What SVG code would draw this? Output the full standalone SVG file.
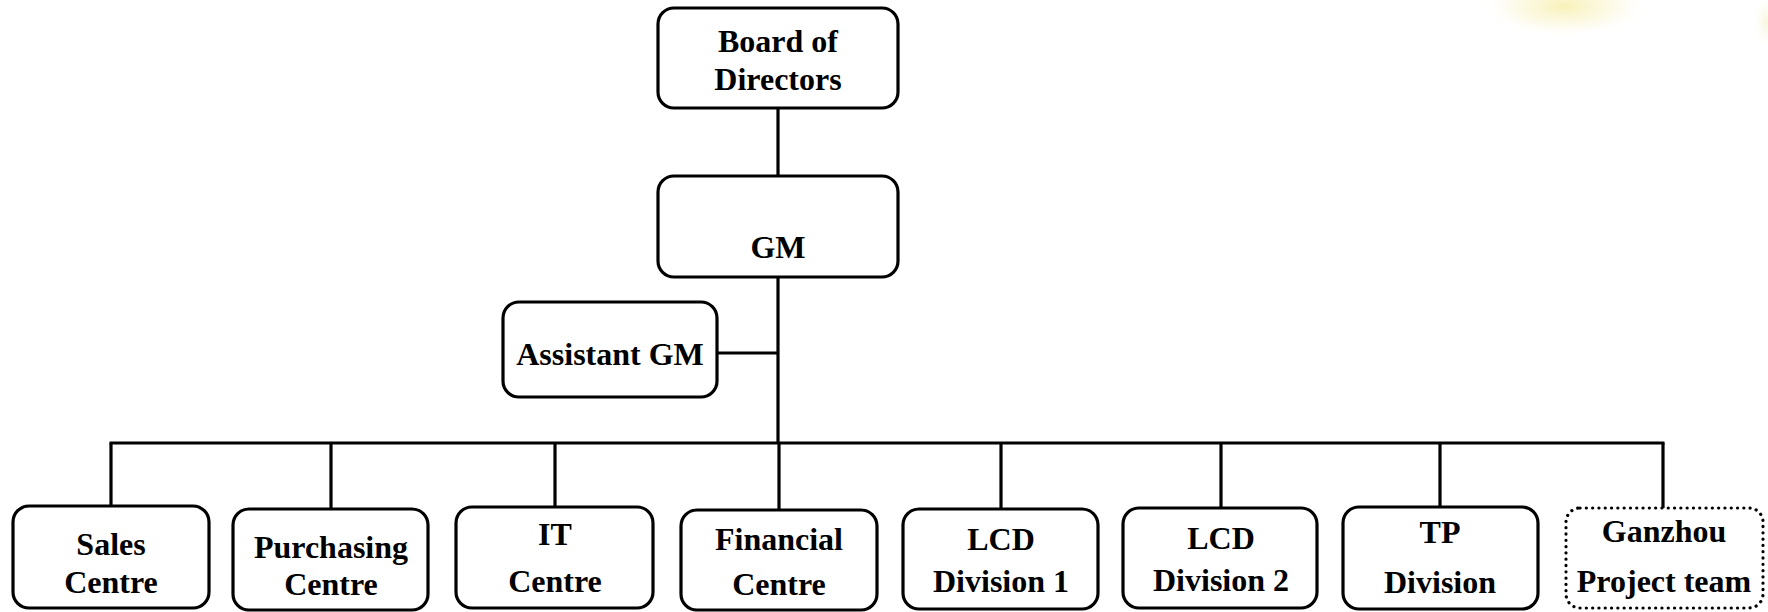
<svg xmlns="http://www.w3.org/2000/svg" width="1768" height="612" viewBox="0 0 1768 612">
<defs>
<radialGradient id="glow" cx="0.5" cy="0.5" r="0.5">
<stop offset="0" stop-color="#f6eb9a" stop-opacity="0.7"/>
<stop offset="0.6" stop-color="#f8f0b8" stop-opacity="0.3"/>
<stop offset="1" stop-color="#ffffff" stop-opacity="0"/>
</radialGradient>
<radialGradient id="glow2" cx="0.5" cy="0.5" r="0.5">
<stop offset="0" stop-color="#f4f0c8" stop-opacity="0.6"/>
<stop offset="1" stop-color="#ffffff" stop-opacity="0"/>
</radialGradient>
</defs>
<style>
.box{fill:#ffffff;stroke:#000;stroke-width:3.2}
.dot{fill:#ffffff;stroke:#000;stroke-width:3.2;stroke-dasharray:0.1 6.2;stroke-linecap:round}
.ln{stroke:#000;stroke-width:3.2;fill:none}
text{font-family:"Liberation Serif","Times New Roman",serif;font-weight:bold;font-size:32px;fill:#000;text-anchor:middle}
</style>
<rect x="0" y="0" width="1768" height="612" fill="#ffffff"/>
<ellipse cx="1565" cy="6" rx="85" ry="32" fill="url(#glow)"/>
<ellipse cx="1766" cy="22" rx="14" ry="30" fill="url(#glow2)"/>
<g id="connectors">
<line class="ln" x1="778" y1="108" x2="778" y2="176"/>
<line class="ln" x1="778" y1="277" x2="778" y2="443"/>
<line class="ln" x1="717" y1="353" x2="778" y2="353"/>
<line class="ln" x1="109.5" y1="443" x2="1664.5" y2="443"/>
<line class="ln" x1="111" y1="443" x2="111" y2="506"/>
<line class="ln" x1="331" y1="443" x2="331" y2="509"/>
<line class="ln" x1="555" y1="443" x2="555" y2="507"/>
<line class="ln" x1="779" y1="443" x2="779" y2="510"/>
<line class="ln" x1="1001" y1="443" x2="1001" y2="509"/>
<line class="ln" x1="1221" y1="443" x2="1221" y2="508"/>
<line class="ln" x1="1440" y1="443" x2="1440" y2="507"/>
<line class="ln" x1="1663" y1="443" x2="1663" y2="508"/>
</g>
<g id="board">
<rect class="box" x="658" y="8" width="240" height="100" rx="16"/>
<text x="778" y="52">Board of</text>
<text x="778" y="90">Directors</text>
</g>
<g id="gm">
<rect class="box" x="658" y="176" width="240" height="101" rx="16"/>
<text x="778" y="258">GM</text>
</g>
<g id="assistant-gm">
<rect class="box" x="503" y="302" width="214" height="95" rx="16"/>
<text x="610" y="365">Assistant GM</text>
</g>
<g id="sales">
<rect class="box" x="13" y="506" width="196" height="102" rx="16"/>
<text x="111" y="555">Sales</text>
<text x="111" y="593">Centre</text>
</g>
<g id="purchasing">
<rect class="box" x="233" y="509" width="195" height="101" rx="16"/>
<text x="331" y="558">Purchasing</text>
<text x="331" y="595">Centre</text>
</g>
<g id="it">
<rect class="box" x="456" y="507" width="197" height="101" rx="16"/>
<text x="555" y="545">IT</text>
<text x="555" y="592">Centre</text>
</g>
<g id="financial">
<rect class="box" x="681" y="510" width="196" height="100" rx="16"/>
<text x="779" y="550">Financial</text>
<text x="779" y="595">Centre</text>
</g>
<g id="lcd1">
<rect class="box" x="903" y="509" width="195" height="100" rx="16"/>
<text x="1001" y="550">LCD</text>
<text x="1001" y="592">Division 1</text>
</g>
<g id="lcd2">
<rect class="box" x="1123" y="508" width="194" height="100" rx="16"/>
<text x="1221" y="549">LCD</text>
<text x="1221" y="591">Division 2</text>
</g>
<g id="tp">
<rect class="box" x="1343" y="507" width="195" height="102" rx="16"/>
<text x="1440" y="543">TP</text>
<text x="1440" y="593">Division</text>
</g>
<g id="ganzhou">
<rect class="dot" x="1566" y="508" width="197" height="100" rx="14"/>
<text x="1664" y="542">Ganzhou</text>
<text x="1664" y="592">Project team</text>
</g>
</svg>
